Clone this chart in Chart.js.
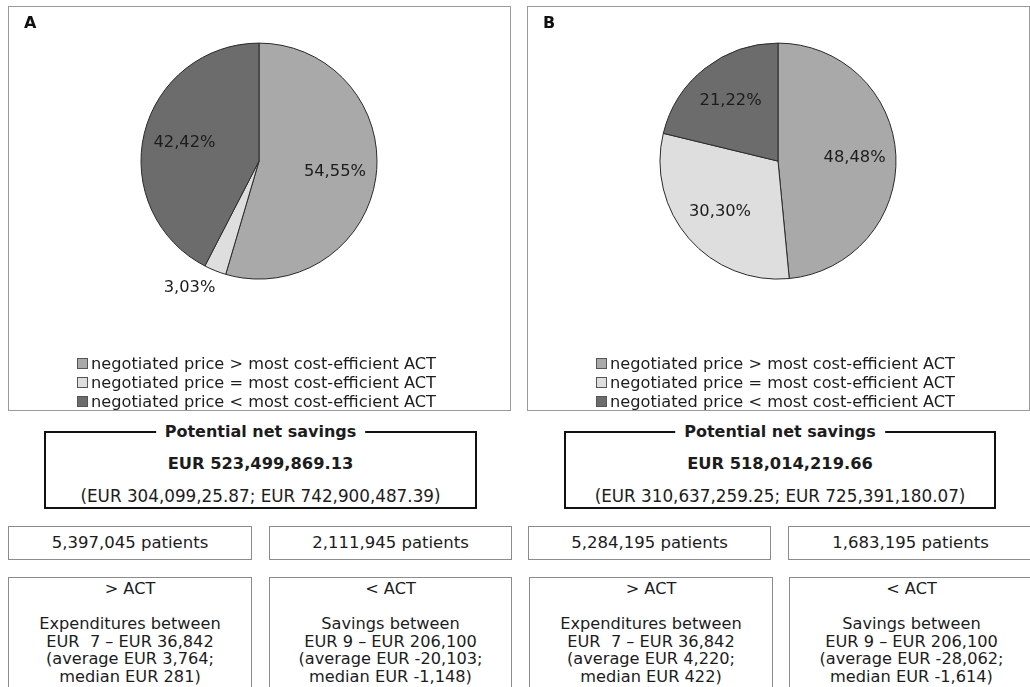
<!DOCTYPE html>
<html>
<head>
<meta charset="utf-8">
<script src="https://cdn.jsdelivr.net/npm/chart.js@4"></script>
<style>
  html, body { margin: 0; padding: 0; background: #fff; }
  body { width: 1030px; height: 687px; overflow: hidden; position: relative;
         font-family: "DejaVu Sans", Verdana, sans-serif; color: #1c1c1c; }
  .panel { position: absolute; top: 6px; width: 503px; height: 405px;
           border: 1.5px solid #9a9a9a; box-sizing: border-box; }
  .panel canvas { position: absolute; left: 0; top: 0; }
  .legend { position: absolute; left: 0; right: 0; top: 347px; text-align: center;
            font-size: 16.2px; line-height: 19px; }
  .legend .item { display: inline-block; text-align: left; margin-left: -6px; }
  .legend .row { white-space: nowrap; }
  .legend .sw { display: inline-block; width: 9px; height: 9px; border: 1px solid #555;
                margin-right: 3px; vertical-align: 0px; }
  .sav { position: absolute; top: 431px; height: 78px; border: 2px solid #111;
         box-sizing: border-box; text-align: center; }
  .sav .ttl { position: absolute; left: 50%; top: -11px; transform: translateX(-50%);
              background: #fff; padding: 0 9px; font-weight: bold; font-size: 16px;
              line-height: 19px; white-space: nowrap; }
  .sav .tot { position: absolute; left: 0; right: 0; top: 21px; font-weight: bold;
              font-size: 16.3px; line-height: 19px; }
  .sav .ci { position: absolute; left: 0; right: 0; top: 54px; font-size: 16.8px;
             line-height: 19px; white-space: nowrap; }
  .pat { position: absolute; top: 526px; height: 34px; border: 1.5px solid #8c8c8c;
         box-sizing: border-box; text-align: center; font-size: 16.5px; line-height: 31px; }
  .det { position: absolute; top: 577px; height: 130px; border: 1.5px solid #8c8c8c;
         box-sizing: border-box; text-align: center; font-size: 16.2px; line-height: 17.6px;
         padding-top: 2px; white-space: pre; }
</style>
</head>
<body>

<div class="panel" id="panelA" style="left:8px;"><canvas id="pieA" width="500" height="402"></canvas><div class="legend" id="legA"></div></div>
<div class="panel" id="panelB" style="left:527px;"><canvas id="pieB" width="500" height="402"></canvas><div class="legend" id="legB"></div></div>

<div id="summary"></div>

<script>
// Pie categories (shared by both scenarios)
const categories = [
  'negotiated price > most cost-efficient ACT',
  'negotiated price = most cost-efficient ACT',
  'negotiated price < most cost-efficient ACT'
];
// Share of products per category, in percent
const sharesA = [54.55, 3.03, 42.42];
const sharesB = [48.48, 30.30, 21.22];
const sliceColors = ['#a9a9a9', '#dedede', '#6c6c6c'];

// Savings summary per scenario
const netSavings = ['EUR 523,499,869.13', 'EUR 518,014,219.66'];
const savingsRange = ['(EUR 304,099,25.87; EUR 742,900,487.39)', '(EUR 310,637,259.25; EUR 725,391,180.07)'];
const patientsAbove = ['5,397,045 patients', '5,284,195 patients'];
const patientsBelow = ['2,111,945 patients', '1,683,195 patients'];
const detailsAbove = [
  ['> ACT', '', 'Expenditures between', 'EUR  7 \u2013 EUR 36,842', '(average EUR 3,764;', 'median EUR 281)'],
  ['> ACT', '', 'Expenditures between', 'EUR  7 \u2013 EUR 36,842', '(average EUR 4,220;', 'median EUR 422)']
];
const detailsBelow = [
  ['< ACT', '', 'Savings between', 'EUR 9 \u2013 EUR 206,100', '(average EUR -20,103;', 'median EUR -1,148)'],
  ['< ACT', '', 'Savings between', 'EUR 9 \u2013 EUR 206,100', '(average EUR -28,062;', 'median EUR -1,614)']
];

const FONT = '"DejaVu Sans", Verdana, sans-serif';

// Percentage labels: inside big slices, outside small ones
const sliceLabels = {
  id: 'sliceLabels',
  afterDatasetsDraw(chart) {
    const ctx = chart.ctx;
    const ds = chart.data.datasets[0];
    const total = ds.data.reduce((a, b) => a + b, 0);
    chart.getDatasetMeta(0).data.forEach((arc, i) => {
      const v = ds.data[i];
      const p = arc.getProps(['x', 'y', 'startAngle', 'endAngle', 'outerRadius'], true);
      const mid = (p.startAngle + p.endAngle) / 2;
      const txt = v.toFixed(2).replace('.', ',') + '%';
      ctx.save();
      ctx.font = '16.3px ' + FONT;
      ctx.fillStyle = '#1c1c1c';
      if (v / total < 0.06) {
        const r = p.outerRadius + 10;
        const x = p.x + Math.cos(mid) * r, y = p.y + Math.sin(mid) * r;
        ctx.textAlign = Math.cos(mid) < -0.1 ? 'right' : (Math.cos(mid) > 0.1 ? 'left' : 'center');
        ctx.textBaseline = Math.sin(mid) > 0.3 ? 'top' : (Math.sin(mid) < -0.3 ? 'bottom' : 'middle');
        ctx.fillText(txt, x + 4, y);
      } else {
        const r = p.outerRadius * 0.65;
        ctx.textAlign = 'center';
        ctx.textBaseline = 'middle';
        ctx.fillText(txt, p.x + Math.cos(mid) * r, p.y + Math.sin(mid) * r);
      }
      ctx.restore();
    });
  }
};

function makePie(id, letter, shares) {
  return new Chart(document.getElementById(id), {
    type: 'pie',
    data: {
      labels: categories,
      datasets: [{
        data: shares,
        backgroundColor: sliceColors,
        borderColor: '#2a2a2a',
        borderWidth: 1
      }]
    },
    options: {
      responsive: false,
      animation: false,
      radius: 118,
      layout: { padding: { left: 15, right: 15, top: 0, bottom: 124 } },
      plugins: {
        legend: { display: false },
        tooltip: { enabled: false },
        title: {
          display: true, text: letter, align: 'start', color: '#111',
          font: { family: FONT, size: 16, weight: 'bold' },
          padding: { top: 7, bottom: 4 }
        }
      }
    },
    plugins: [sliceLabels]
  });
}

function buildLegend(id) {
  const el = document.getElementById(id);
  const item = document.createElement('div');
  item.className = 'item';
  categories.forEach((c, i) => {
    const row = document.createElement('div');
    row.className = 'row';
    const sw = document.createElement('span');
    sw.className = 'sw';
    sw.style.background = sliceColors[i];
    row.appendChild(sw);
    row.appendChild(document.createTextNode(c));
    item.appendChild(row);
  });
  el.appendChild(item);
}

makePie('pieA', 'A', sharesA);
makePie('pieB', 'B', sharesB);
buildLegend('legA');
buildLegend('legB');

// Summary boxes under each pie
const boxGeom = [
  { sav: [44, 433], pat: [[8, 244], [269, 243]], det: [[8, 244], [269, 243]] },
  { sav: [564, 432], pat: [[528, 243], [788, 245]], det: [[529, 244], [789, 245]] }
];
const summary = document.getElementById('summary');
function addDiv(cls, left, width, html) {
  const d = document.createElement('div');
  d.className = cls;
  d.style.left = left + 'px';
  d.style.width = width + 'px';
  d.innerHTML = html;
  summary.appendChild(d);
  return d;
}
[0, 1].forEach(k => {
  const g = boxGeom[k];
  addDiv('sav', g.sav[0], g.sav[1],
    '<div class="ttl">Potential net savings</div>' +
    '<div class="tot">' + netSavings[k] + '</div>' +
    '<div class="ci">' + savingsRange[k] + '</div>');
  addDiv('pat', g.pat[0][0], g.pat[0][1], patientsAbove[k]);
  addDiv('pat', g.pat[1][0], g.pat[1][1], patientsBelow[k]);
  const a = addDiv('det', g.det[0][0], g.det[0][1], '');
  a.textContent = detailsAbove[k].join('\n');
  const b = addDiv('det', g.det[1][0], g.det[1][1], '');
  b.textContent = detailsBelow[k].join('\n');
});
</script>
</body>
</html>
